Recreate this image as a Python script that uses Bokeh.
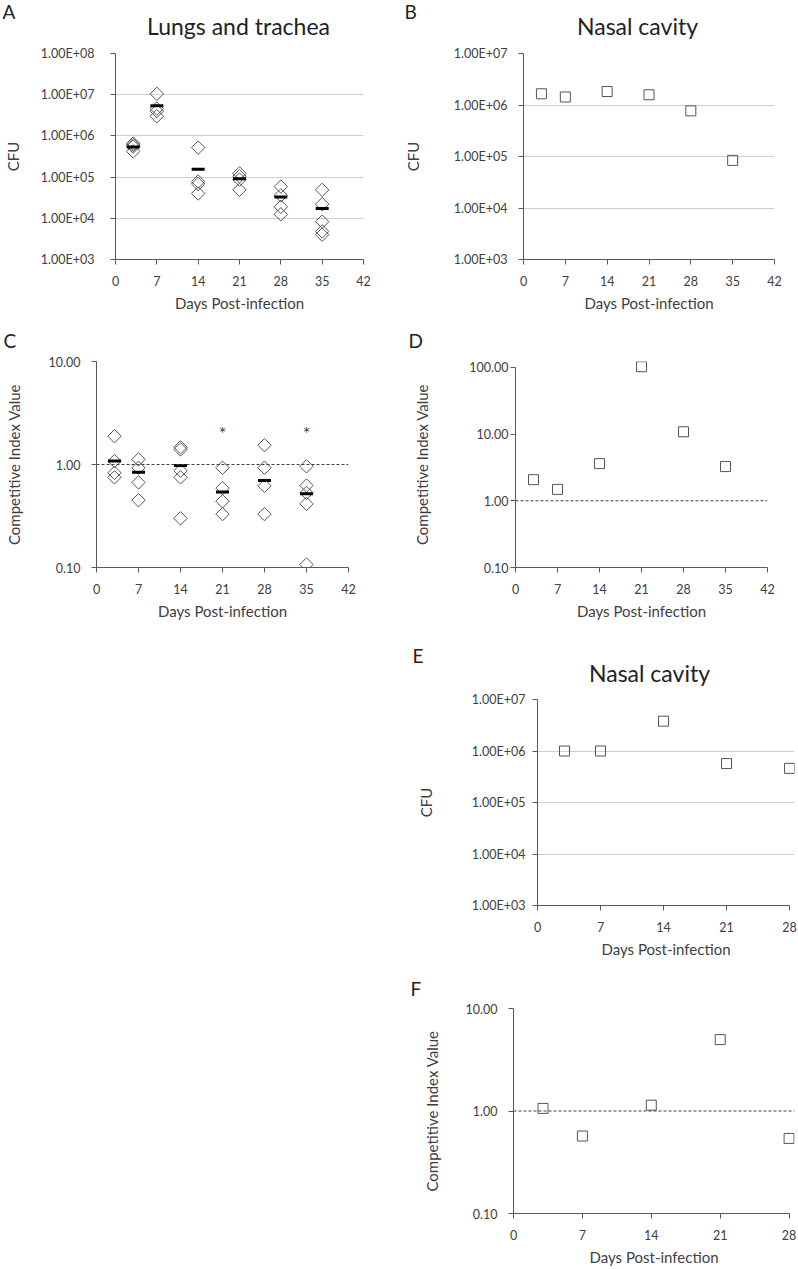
import numpy as np
from bokeh.plotting import figure
from bokeh.models import Range1d, FixedTicker, CustomJSTickFormatter, Label, Span, Spacer
from bokeh.layouts import column, row
from bokeh.embed import file_html
from bokeh.resources import INLINE
from bokeh.core.properties import value

FONT = "Lato"
TEXT = "#404040"
AXIS = "#595959"
GRID = "#d0d0d0"
MARK = "#555555"

# ---------------- data ----------------
day_ticks_42 = [0, 7, 14, 21, 28, 35, 42]
day_ticks_28 = [0, 7, 14, 21, 28]
cfu_ticks_a = [1e3, 1e4, 1e5, 1e6, 1e7, 1e8]
cfu_ticks_b = [1e3, 1e4, 1e5, 1e6, 1e7]
ci_ticks_c = [0.1, 1.0, 10.0]
ci_ticks_d = [0.1, 1.0, 10.0, 100.0]

# A: lungs and trachea, CFU per animal
a_day = [3, 3, 3, 3, 7, 7, 7, 7, 14, 14, 14, 14, 21, 21, 21, 21,
         28, 28, 28, 28, 35, 35, 35, 35, 35]
a_cfu = [6.5e5, 6.0e5, 5.5e5, 4.2e5, 1.05e7, 4.6e6, 4.0e6, 3.0e6,
         5.2e5, 7.8e4, 6.8e4, 4.0e4, 1.23e5, 1.05e5, 8.7e4, 4.9e4,
         5.9e4, 3.6e4, 1.9e4, 1.25e4, 4.9e4, 2.2e4, 8.3e3, 4.8e3, 4.0e3]
a_mean_day = [3, 7, 14, 21, 28, 35]
a_mean_cfu = [5.4e5, 5.4e6, 1.55e5, 9.1e4, 3.3e4, 1.74e4]

# B: nasal cavity, CFU
b_day = [3, 7, 14, 21, 28, 35]
b_cfu = [1.65e6, 1.43e6, 1.83e6, 1.58e6, 7.7e5, 8.4e4]

# C: competitive index, lungs
c_day = [3, 3, 3, 3, 7, 7, 7, 7, 14, 14, 14, 14, 14, 21, 21, 21, 21,
         28, 28, 28, 28, 35, 35, 35, 35, 35]
c_ci = [1.88, 1.08, 0.83, 0.75, 1.12, 0.93, 0.67, 0.45,
        1.47, 1.40, 0.87, 0.75, 0.30, 0.93, 0.59, 0.44, 0.33,
        1.54, 0.93, 0.62, 0.33, 0.96, 0.625, 0.53, 0.415, 0.107]
c_mean_day = [3, 7, 14, 21, 28, 35]
c_mean_ci = [1.08, 0.84, 0.98, 0.54, 0.70, 0.52]
c_star_day = [21, 35]
c_star_ci = [2.0, 2.0]

# D: competitive index, nasal cavity
d_day = [3, 7, 14, 21, 28, 35]
d_ci = [2.07, 1.48, 3.6, 102.0, 10.8, 3.25]

# E: nasal cavity, CFU
e_day = [3, 7, 14, 21, 28]
e_cfu = [1.0e6, 1.0e6, 3.8e6, 5.7e5, 4.6e5]

# F: competitive index, nasal cavity
f_day = [3, 7, 14, 21, 28]
f_ci = [1.06, 0.57, 1.14, 4.97, 0.54]

CFU_FMT = "return '1.00E+' + String(Math.round(Math.log10(tick))).padStart(2, '0');"
CI_FMT = "return tick.toFixed(2);"


def make_fig(width, height, left, right, top, bottom, xr, yr, xticks, yticks,
             fmt, ylabel, ystand, ylabstand, grid=True, xbounds=None, ybounds=None):
    p = figure(width=width, height=height, x_range=Range1d(*xr),
               y_range=Range1d(*yr), y_axis_type="log",
               output_backend="svg", toolbar_location=None,
               min_border_left=left, min_border_right=right,
               min_border_top=top, min_border_bottom=bottom)
    p.outline_line_color = None
    p.xgrid.grid_line_color = None
    if grid:
        p.ygrid.grid_line_color = GRID
        p.ygrid.grid_line_width = 1
    else:
        p.ygrid.grid_line_color = None
    p.xaxis.ticker = FixedTicker(ticks=xticks)
    p.yaxis.ticker = FixedTicker(ticks=yticks)
    p.yaxis.formatter = CustomJSTickFormatter(code=fmt)
    if xbounds is not None:
        p.xaxis.bounds = xbounds
    if ybounds is not None:
        p.yaxis.bounds = ybounds
    for ax in (p.xaxis, p.yaxis):
        ax.axis_line_color = AXIS
        ax.major_tick_line_color = AXIS
        ax.minor_tick_line_color = None
        ax.major_tick_in = 0
        ax.major_tick_out = 5
        ax.major_label_text_font = FONT
        ax.major_label_text_font_size = "12.5px"
        ax.major_label_text_color = TEXT
        ax.axis_label_text_font = FONT
        ax.axis_label_text_font_size = "15px"
        ax.axis_label_text_font_style = "normal"
        ax.axis_label_text_color = TEXT
    p.xaxis.major_label_standoff = 11
    p.xaxis.axis_label_standoff = 5
    p.yaxis.major_label_standoff = ystand
    p.yaxis.axis_label_standoff = ylabstand
    p.xaxis.axis_label = "Days Post-infection"
    p.yaxis.axis_label = ylabel
    return p


def header(height, items):
    h = figure(width=798, height=height, x_range=Range1d(0, 798),
               y_range=Range1d(height, 0), x_axis_location=None,
               y_axis_location=None, min_border=0, output_backend="svg",
               toolbar_location=None)
    h.outline_line_color = None
    h.xgrid.visible = False
    h.ygrid.visible = False
    for x, y, text, size, align in items:
        h.add_layout(Label(x=x, y=y, text=text, text_font=FONT,
                           text_font_size=size, text_color="#222222",
                           text_align=align, text_baseline="middle"))
    return h


def one_line(p):
    p.add_layout(Span(location=1.0, dimension="width", line_color="#404040",
                      line_width=1, line_dash="3 2"))


# ---- row 1 ----
h1 = header(44, [(2, 11, "A", "19px", "left"),
                 (238, 25, "Lungs and trachea", "23px", "center"),
                 (404, 11, "B", "19px", "left"),
                 (637, 25, "Nasal cavity", "23px", "center")])

pa = make_fig(400, 274, 113, 37, 9, 59, (0, 42), (1e3, 1e8), day_ticks_42,
              cfu_ticks_a, CFU_FMT, "CFU", 16, 16)
pa.scatter(a_day, a_cfu, marker="square", angle=np.pi / 4, size=9.5,
           fill_color=None, line_color=MARK, line_width=1)
pa.scatter(a_mean_day, a_mean_cfu, marker="dash", size=13, line_width=3,
           line_color="black")

pb = make_fig(398, 274, 123, 24, 9, 58, (0, 42), (1e3, 1e7), day_ticks_42,
              cfu_ticks_b, CFU_FMT, "CFU", 11, 29)
pb.scatter(b_day, b_cfu, marker="square", size=10, fill_color=None,
           line_color=MARK, line_width=1)

# ---- row 2 ----
h2 = header(33, [(3, 22, "C", "19px", "left"),
                 (408, 22, "D", "19px", "left")])

pc = make_fig(400, 277, 96, 52, 10, 61, (0, 42), (0.1, 10), day_ticks_42,
              ci_ticks_c, CI_FMT, "Competitive Index Value", 11, 23, grid=False)
one_line(pc)
pc.scatter(c_day, c_ci, marker="square", angle=np.pi / 4, size=9.5,
           fill_color=None, line_color=MARK, line_width=1)
pc.scatter(c_mean_day, c_mean_ci, marker="dash", size=13, line_width=3,
           line_color="black")
pc.text(c_star_day, c_star_ci, text=["*", "*"], text_font=value(FONT),
        text_font_size="18px", text_color=TEXT, text_align="center",
        text_baseline="middle")

pd_ = make_fig(398, 277, 115, 31, 4, 61, (0, 42), (0.1, 122), day_ticks_42,
               ci_ticks_d, CI_FMT, "Competitive Index Value", 2, 35, grid=False,
               ybounds=(0.1, 100))
one_line(pd_)
pd_.scatter(d_day, d_ci, marker="square", size=10, fill_color=None,
            line_color=MARK, line_width=1)

# ---- row 3 ----
h3 = header(62, [(412, 27, "E", "19px", "left"),
                 (649, 44, "Nasal cavity", "23px", "center")])

pe = make_fig(398, 270, 137, 4, 9, 54, (0, 28.55), (1e3, 1e7), day_ticks_28,
              cfu_ticks_b, CFU_FMT, "CFU", 7, 34, xbounds=(0, 28))
pe.scatter(e_day, e_cfu, marker="square", size=10, fill_color=None,
           line_color=MARK, line_width=1)

# ---- row 4 ----
h4 = header(41, [(410, 28, "F", "19px", "left")])

pf = make_fig(398, 268, 113, 4, 7, 56, (0, 28.55), (0.1, 10), day_ticks_28,
              ci_ticks_c, CI_FMT, "Competitive Index Value", 11, 22, grid=False,
              xbounds=(0, 28))
pf.y_range = Range1d(0.1, 10)
one_line(pf)
pf.scatter(f_day, f_ci, marker="square", size=10, fill_color=None,
           line_color=MARK, line_width=1)

layout = column(
    h1, row(pa, pb),
    h2, row(pc, pd_),
    h3, row(Spacer(width=400, height=270), pe),
    h4, row(Spacer(width=400, height=268), pf),
)

open("out.html", "w").write(file_html(layout, INLINE))
